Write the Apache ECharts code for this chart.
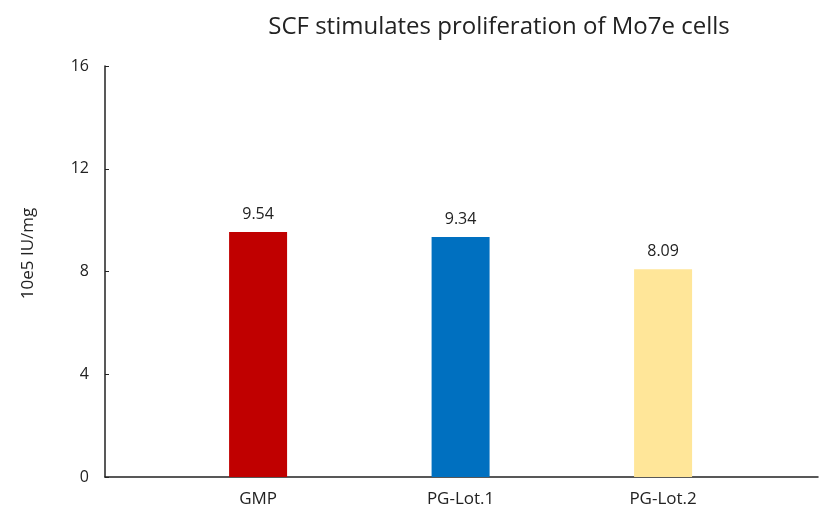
<!DOCTYPE html>
<html>
<head>
<meta charset="utf-8">
<script src="https://cdn.jsdelivr.net/npm/echarts@6/dist/echarts.min.js"></script>
<style>html,body{margin:0;padding:0;background:#fff}#c{width:820px;height:518px}</style>
</head>
<body>
<div id="c"></div>
<script>
var categories = ['GMP', 'PG-Lot.1', 'PG-Lot.2'];
var values = [9.54, 9.34, 8.09];
var barColors = ['#C00000', '#0070C0', '#FFE699'];
var yTicks = [0, 4, 8, 12, 16];
var titleText = 'SCF stimulates proliferation of Mo7e cells';
var yName = '10e5 IU/mg';

var chart = echarts.init(document.getElementById('c'));
var font = '"Open Sans", "DejaVu Sans", sans-serif';
chart.setOption({
  backgroundColor: '#ffffff',
  animation: false,
  title: {
    text: titleText,
    left: 494, top: 10, textAlign: 'center',
    textStyle: { fontFamily: font, fontSize: 24, fontWeight: 'normal', color: '#222' }
  },
  grid: { left: 105, right: 2, top: 66, bottom: 41, containLabel: false },
  xAxis: {
    type: 'value',
    min: -0.756, max: 2.765,
    splitLine: { show: false },
    axisTick: { show: false },
    axisLine: { show: true, onZero: false, lineStyle: { color: '#222', width: 1.5 } },
    axisLabel: {
      customValues: [0, 1, 2],
      formatter: function (v) { return categories[Math.round(v)]; },
      fontFamily: font, fontSize: 17, color: '#222', margin: 14
    }
  },
  yAxis: {
    type: 'value', min: 0, max: 16, interval: 4,
    name: yName, nameLocation: 'middle', nameGap: 68,
    nameTextStyle: { fontFamily: font, fontSize: 17, color: '#222', padding: [0, 0, 0, 36] },
    splitLine: { show: false },
    axisLine: { show: true, onZero: false, lineStyle: { color: '#222', width: 1.5 } },
    axisTick: { show: true, inside: true, length: 4, lineStyle: { color: '#222' } },
    axisLabel: { fontFamily: font, fontSize: 16, color: '#222', margin: 16,
      customValues: yTicks }
  },
  series: [{
    type: 'bar',
    barWidth: 58,
    data: values.map(function (v, i) {
      return { value: [i, v], itemStyle: { color: barColors[i] } };
    }),
    label: {
      show: true, position: 'top', distance: 10,
      formatter: function (p) { return p.value[1].toFixed(2); },
      fontFamily: font, fontSize: 16, color: '#222'
    }
  }]
});
</script>
</body>
</html>
